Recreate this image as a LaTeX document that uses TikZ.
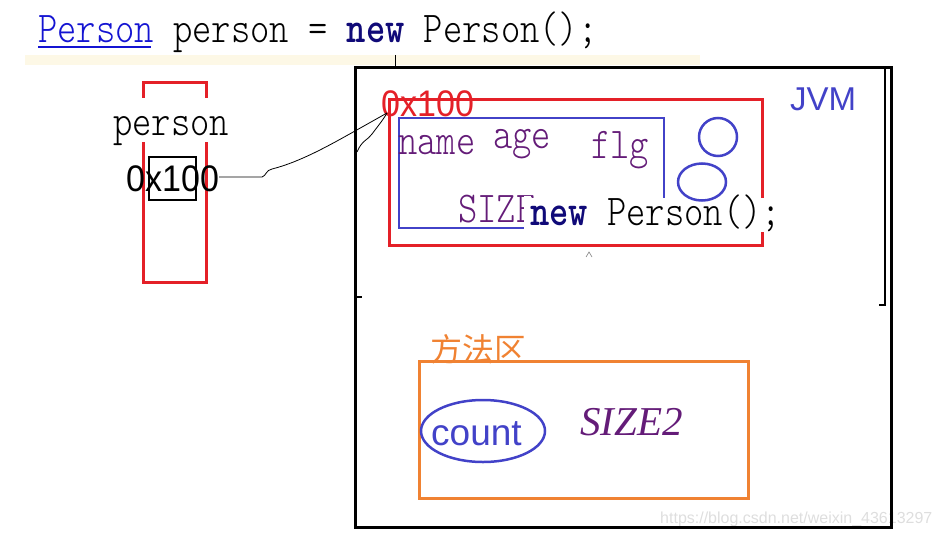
\documentclass[tikz,border=0pt]{standalone}
\usepackage{fontspec}
\usetikzlibrary{shapes.geometric}
\setmainfont{Liberation Serif}
\newfontfamily\codefont{lmmonolt10-regular}[Extension=.otf, BoldFont=lmmonolt10-bold, FakeStretch=0.835]
\newfontfamily\sansf{Liberation Sans}
\newfontfamily\sansn{Liberation Sans}[FakeStretch=0.92]
\newfontfamily\cjk{Noto Sans CJK SC}
\definecolor{cred}{RGB}{228,32,40}
\definecolor{cblue}{RGB}{66,66,200}
\definecolor{corange}{RGB}{240,130,50}
\definecolor{cpurple}{RGB}{100,28,120}
\definecolor{clink}{RGB}{20,20,210}
\definecolor{cnavy}{RGB}{16,10,120}
\definecolor{cband}{RGB}{253,248,230}
\definecolor{cwater}{RGB}{222,222,222}
\tikzset{
  code/.style={font=\codefont\fontsize{44}{48}\selectfont, inner sep=0pt, anchor=base west},
  sanslabel/.style={font=\sansn\fontsize{37}{40}\selectfont, inner sep=0pt, anchor=base west},
  redbox/.style={draw=cred, line width=3pt},
  bluebox/.style={draw=cblue, line width=2.5pt},
  orangebox/.style={draw=corange, line width=3pt},
  jvmbox/.style={draw=black, line width=3pt},
  pointer/.style={draw=black, line width=0.8pt},
}
\begin{document}
\begin{tikzpicture}[x=1pt,y=-1pt]
\useasboundingbox (0,0) rectangle (941,535);
% top band and code line
\fill[cband] (25,55) rectangle (700,65);
\node[code] (codeline) at (38,43) {\textcolor{clink}{Person} person = \textcolor{cnavy}{\textbf{new}} Person();};
\draw[clink, line width=1.5pt] (38,47) -- (151,47);
\draw[black, line width=1pt] (395,55) -- (395,67);
% watermark
\node[font=\sansf\fontsize{16}{18}\selectfont, text=cwater, inner sep=0pt, anchor=base west] (wm) at (660,523) {https://blog.csdn.net/weixin\_43613297};
% stack variable
\draw[redbox] (143,82) rectangle (206,282);
\node[code, fill=white, text height=37pt, text depth=7pt] (pname) at (113,135) {person};
\draw[black, line width=2.5pt] (149,157) rectangle (196,200);
\node[sanslabel] (ptr) at (126,191) {0x100};
% JVM box
\draw[jvmbox] (355,67) -- (891,67) -- (891,527) -- (355,527) -- cycle;
\draw[black, line width=1.5pt] (885,67) -- (885,305) -- (879,305);
\draw[black, line width=1.5pt] (357,297) -- (362,297);
\node[font=\sansf\fontsize{33}{36}\selectfont, text=cblue, inner sep=0pt, anchor=base west] (jvm) at (790,110) {JVM};
% heap object
\draw[redbox] (389,99) rectangle (762,245);
\draw[bluebox] (399,118) rectangle (664,228);
\node[sanslabel, text=cred] (addr) at (381,116) {0x100};
\coordinate (tip) at (387,113);
\node[code, text=cpurple] (fname) at (398,154) {name};
\node[code, text=cpurple] (fage) at (493,148) {age};
\node[code, text=cpurple] (fflg) at (591,158) {flg};
\node[code, text=cpurple] (fsize) at (458,222) {SIZE};
\fill[white] (524,196) rectangle (531,232);
\node[code, fill=white, text height=27pt, text depth=7pt] (newp) at (530,225) {\textcolor{cnavy}{\textbf{new}} Person();};
\node[bluebox, circle, minimum size=38pt, inner sep=0pt] (c1) at (718,137) {};
\node[bluebox, ellipse, minimum width=48pt, minimum height=37pt, inner sep=0pt] (c2) at (702,182) {};
\draw[gray, line width=0.6pt] (586,257) -- (589,252) -- (592,257);
% pointer
\draw[pointer] (ptr.east |- 0,177) -- (262,177) .. controls (266,176) and (266,170) .. (272,169)
  .. controls (300,162) and (330,145) .. (355,131) -- (tip);
\draw[pointer] (357,152) .. controls (362,140) and (368,140) .. (372,134) .. controls (378,126) and (383,120) .. (tip);
% method area
\draw[orangebox] (419,361) rectangle (748,498);
\node[font=\cjk\fontsize{32}{36}\selectfont, text=corange, inner sep=0pt] (marea) at (478,349) {方法区};
\node[bluebox, ellipse, minimum width=124pt, minimum height=62pt, inner sep=0pt] (ccount) at (483,431) {};
\node[font=\sansf\fontsize{37}{40}\selectfont, text=cblue, inner sep=0pt, anchor=base west] (count) at (431,445) {count};
\node[font=\itshape\fontsize{41}{44}\selectfont, text=cpurple, inner sep=0pt, anchor=base west] (size2) at (580,435) {SIZE2};
\end{tikzpicture}
\end{document}
